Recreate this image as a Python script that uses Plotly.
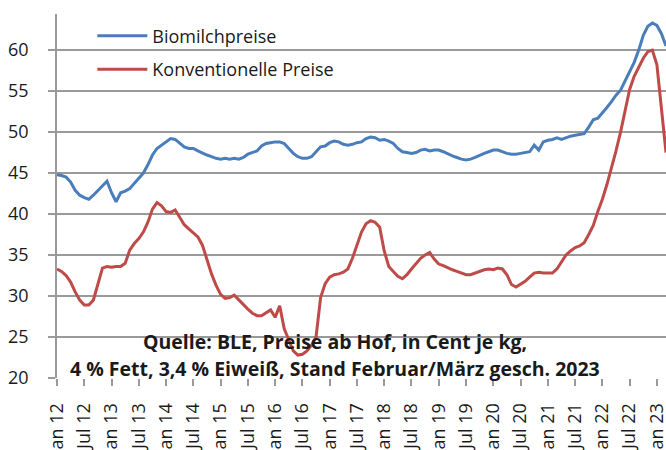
import plotly.graph_objects as go

# Monthly values, Jan 2012 (index 0) to Mar 2023
bio = [44.8, 44.7, 44.5, 43.9, 42.9, 42.3, 42.0, 41.8, 42.3, 42.9, 43.5, 44.0,
       42.6, 41.5, 42.6, 42.8, 43.1, 43.7, 44.3, 45.0, 46.0, 47.2, 48.0, 48.4,
       48.9, 49.2, 49.1, 48.7, 48.2, 48.0, 48.0, 47.7, 47.4, 47.2, 47.0, 46.8,
       46.7, 46.8, 46.7, 46.8, 46.7, 46.9, 47.3, 47.5, 47.7, 48.3, 48.6, 48.7,
       48.8, 48.8, 48.6, 48.0, 47.4, 47.0, 46.8, 46.8, 47.0, 47.6, 48.2, 48.3,
       48.7, 48.9, 48.8, 48.5, 48.4, 48.5, 48.7, 48.8, 49.2, 49.4, 49.3, 49.0,
       49.1, 48.9, 48.6, 48.0, 47.6, 47.5, 47.4, 47.5, 47.8, 47.9, 47.7, 47.8,
       47.8, 47.6, 47.3, 47.1, 46.9, 46.7, 46.6, 46.7, 46.9, 47.2, 47.4, 47.6,
       47.8, 47.8, 47.6, 47.4, 47.3, 47.3, 47.4, 47.5, 47.6, 48.4, 47.8, 48.8,
       49.0, 49.1, 49.3, 49.1, 49.3, 49.5, 49.6, 49.7, 49.8, 50.6, 51.5, 51.7,
       52.3, 53.0, 53.7, 54.5, 55.1, 56.2, 57.4, 58.5, 60.0, 61.8, 62.9, 63.3,
       63.0, 62.0, 60.5]

konv = [33.3, 33.0, 32.5, 31.7, 30.5, 29.5, 28.9, 28.9, 29.5, 31.3, 33.4, 33.6,
        33.5, 33.6, 33.6, 34.0, 35.6, 36.4, 37.0, 37.8, 39.0, 40.6, 41.4, 41.0,
        40.3, 40.2, 40.5, 39.6, 38.7, 38.2, 37.7, 37.2, 36.2, 34.5, 32.7, 31.3,
        30.2, 29.7, 29.8, 30.1, 29.5, 28.9, 28.4, 27.9, 27.6, 27.6, 28.0, 28.3,
        27.4, 28.8, 26.0, 24.6, 23.3, 22.8, 22.9, 23.3, 24.0, 25.0, 29.8, 31.5,
        32.3, 32.6, 32.7, 32.9, 33.3, 34.6, 36.2, 37.8, 38.8, 39.2, 39.0, 38.4,
        35.5, 33.6, 33.0, 32.4, 32.1, 32.6, 33.3, 34.0, 34.6, 35.0, 35.3, 34.5,
        33.9, 33.7, 33.4, 33.2, 33.0, 32.8, 32.6, 32.6, 32.8, 33.0, 33.2, 33.3,
        33.2, 33.4, 33.3, 32.6, 31.4, 31.1, 31.4, 31.8, 32.3, 32.8, 32.9, 32.8,
        32.8, 32.8, 33.3, 34.2, 35.0, 35.5, 35.9, 36.1, 36.5, 37.5, 38.6, 40.3,
        41.8, 43.6, 45.6, 47.7, 50.0, 52.6, 55.2, 56.8, 58.0, 59.0, 59.8, 60.0,
        58.2, 53.0, 47.5]

tick_labels = ["Jan 12", "Jul 12", "Jan 13", "Jul 13", "Jan 14", "Jul 14",
               "Jan 15", "Jul 15", "Jan 16", "Jul 16", "Jan 17", "Jul 17",
               "Jan 18", "Jul 18", "Jan 19", "Jul 19", "Jan 20", "Jul 20",
               "Jan 21", "Jul 21", "Jan 22", "Jul 22", "Jan 23"]
y_ticks = [20, 25, 30, 35, 40, 45, 50, 55, 60, 65]

months = list(range(len(bio)))
tick_pos = [i * 6 for i in range(len(tick_labels))]

FONT = "Open Sans"
fig = go.Figure()
fig.add_trace(go.Scatter(x=months, y=bio, mode="lines", name="Biomilchpreise",
                         line=dict(color="#4a7ebb", width=3), legendgroup="a"))
fig.add_trace(go.Scatter(x=months, y=konv, mode="lines", name="Konventionelle Preise",
                         line=dict(color="#be4b48", width=3), legendgroup="b"))

fig.update_layout(
    width=666, height=450,
    margin=dict(l=57, r=0, t=14, b=72, autoexpand=False),
    paper_bgcolor="white", plot_bgcolor="white",
    font=dict(family=FONT, size=18, color="#1a1a1a"),
    showlegend=True,
    legend=dict(x=0.058, y=0.99, xanchor="left", yanchor="top",
                bgcolor="rgba(0,0,0,0)", tracegroupgap=7, itemwidth=50,
                font=dict(family=FONT, size=18, color="#1a1a1a")),
    xaxis=dict(range=[0, 134], tickmode="array", tickvals=tick_pos,
               ticktext=tick_labels, tickangle=-90, showgrid=False,
               ticks="outside", ticklen=7, tickcolor="#9a9a9a", tickwidth=1.5,
               showline=False, zeroline=False, automargin=False,
               ticklabelstandoff=10, ticklabeloverflow="allow",
               tickfont=dict(family=FONT, size=18, color="#1a1a1a")),
    yaxis=dict(range=[20, 64.4], tickmode="array", tickvals=y_ticks,
               showgrid=True, gridcolor="#9a9a9a", gridwidth=1.5,
               showline=True, linecolor="#9a9a9a", linewidth=1.5,
               zeroline=False, ticks="outside", ticklen=7, tickcolor="#9a9a9a",
               tickwidth=1.5, ticklabelstandoff=16, automargin=False,
               tickfont=dict(family=FONT, size=18, color="#1a1a1a")),
    annotations=[
        dict(text="<b>Quelle: BLE, Preise ab Hof, in Cent je kg,</b>",
             xref="paper", yref="paper", x=0.456, y=(378 - 341) / 364,
             xanchor="center", yanchor="middle", showarrow=False,
             font=dict(family=FONT, size=19.5, color="#1a1a1a")),
        dict(text="<b>4 % Fett, 3,4 % Eiweiß, Stand Februar/März gesch. 2023</b>",
             xref="paper", yref="paper", x=0.456, y=(378 - 368) / 364,
             xanchor="center", yanchor="middle", showarrow=False,
             font=dict(family=FONT, size=19.5, color="#1a1a1a")),
    ],
)

fig.write_html("out.html", config={"displayModeBar": False},
               post_script="document.body.style.margin='0';document.body.style.padding='0';")
